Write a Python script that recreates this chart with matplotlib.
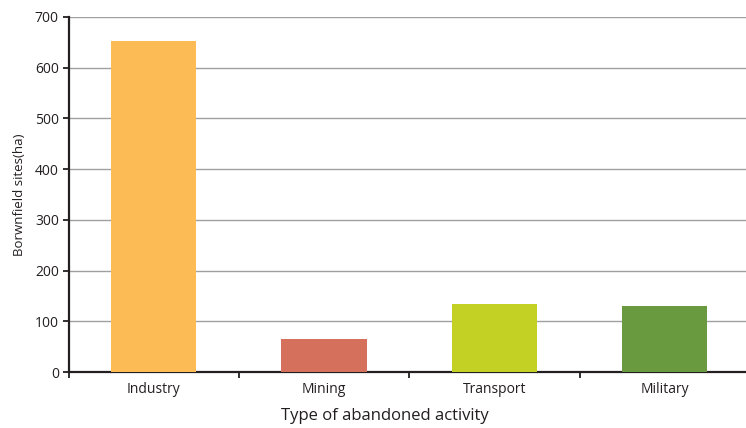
import matplotlib.pyplot as plt
import numpy as np

# data
categories = ['Industry', 'Mining', 'Transport', 'Military']
values = [653, 65, 134, 130]
colors = ['#FDBB55', '#D4705B', '#C3D024', '#6A9A40']

plt.rcParams['font.family'] = ['Open Sans', 'DejaVu Sans']

fig = plt.figure(figsize=(7.46, 4.28), dpi=100)
ax = fig.add_axes([68.5/746, 56/428, (750-68.5)/746, 355/428])

x = np.arange(len(categories))
ax.bar(x, values, width=0.5, color=colors, zorder=3)

ax.set_xlim(-0.5, 3.5)
ax.set_ylim(0, 700)
ax.set_yticks(np.arange(0, 701, 100))
ax.yaxis.grid(True, color='#a0a0a0', linewidth=1.0, zorder=0)

ax.set_xticks(x)
ax.set_xticklabels(categories, fontsize=10, color='#231F20')
ax.set_xticks(np.arange(-0.5, 3.6, 1), minor=True)
ax.tick_params(axis='x', which='major', length=0, pad=7)
ax.tick_params(axis='x', which='minor', length=4, width=1.3, color='#231F20', direction='out')
ax.tick_params(axis='y', length=4, width=1.3, color='#231F20', labelsize=10, labelcolor='#231F20', pad=3)

for s in ['top', 'right']:
    ax.spines[s].set_visible(False)
for s in ['left', 'bottom']:
    ax.spines[s].set_linewidth(1.6)
    ax.spines[s].set_color('#231F20')

ax.set_ylabel('Borwnfield sites(ha)', fontsize=9.5, color='#231F20', labelpad=6)
ax.set_xlabel('Type of abandoned activity', fontsize=12, color='#231F20')
ax.xaxis.set_label_coords((385-68.5)/(750-68.5), -36/355)

fig.savefig('out.png', dpi=100)
